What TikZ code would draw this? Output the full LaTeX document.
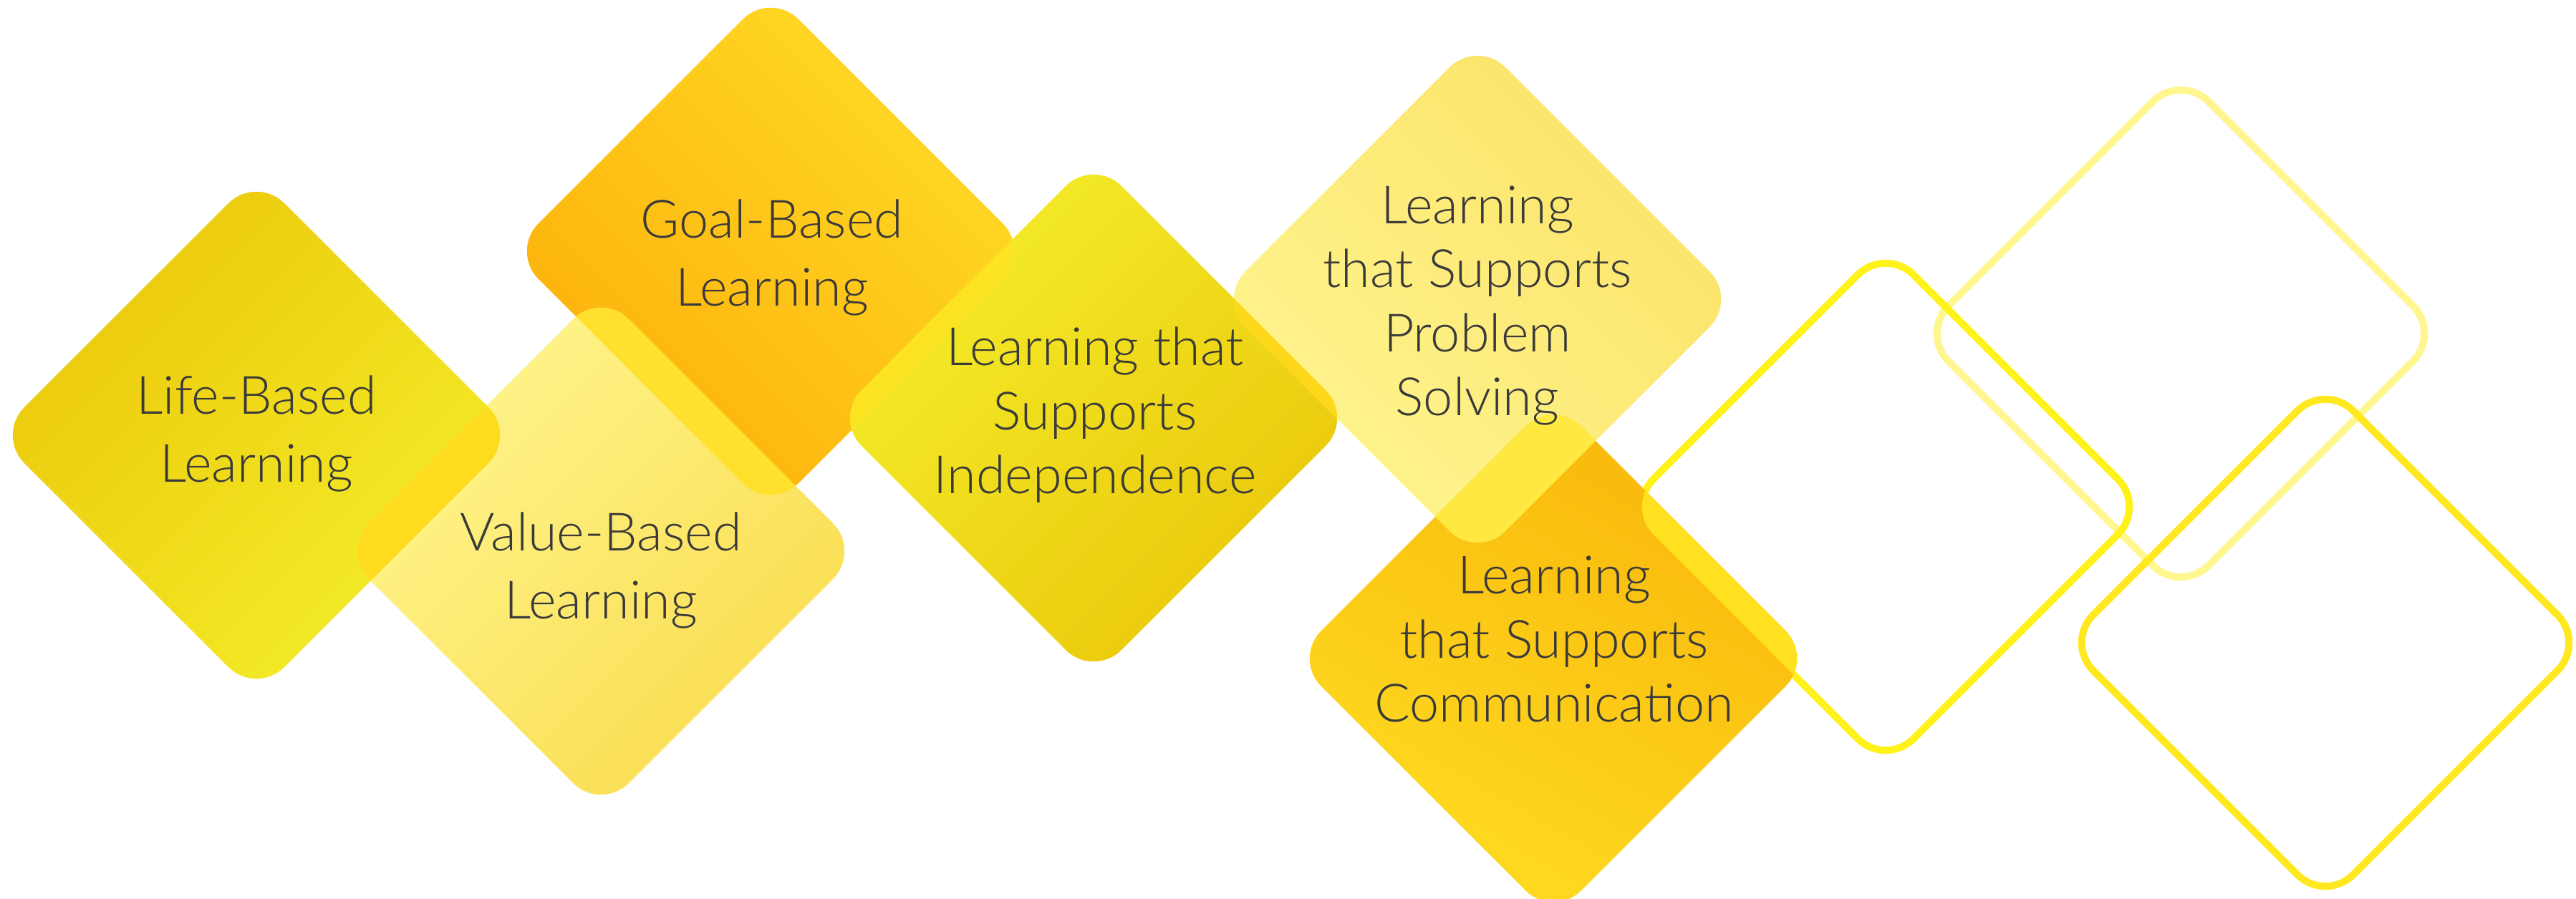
\documentclass[tikz,border=0pt]{standalone}
\usepackage{fontspec}
\setmainfont{Lato Light}
\definecolor{ink}{HTML}{3A3A3A}
\definecolor{lifedark}{HTML}{EBC70A}
\definecolor{lifebright}{HTML}{F4EE2A}
\definecolor{goalorange}{HTML}{FDAF0A}
\definecolor{goalyellow}{HTML}{FFDB26}
\definecolor{valuelight}{HTML}{FFF690}
\definecolor{valuegold}{HTML}{FADC4E}
\definecolor{indepbright}{HTML}{F4EE2A}
\definecolor{indepdark}{HTML}{EAC60A}
\definecolor{problight}{HTML}{FFF692}
\definecolor{probgold}{HTML}{FBE266}
\definecolor{commorange}{HTML}{F8B60A}
\definecolor{commyellow}{HTML}{FFDC22}
\definecolor{mixlifevalue}{HTML}{FDDC1E}
\definecolor{mixgoalvalue}{HTML}{FFE02C}
\definecolor{mixgoalindep}{HTML}{FCE423}
\definecolor{mixindepprob}{HTML}{FDD81A}
\definecolor{mixprobcomm}{HTML}{FFE840}
\definecolor{mixcommring}{HTML}{FFE120}
\definecolor{ringbright}{HTML}{FFF21A}
\definecolor{ringlight}{HTML}{FFF68F}
\definecolor{ringgold}{HTML}{FFE820}
\tikzset{
  tile/.style={rounded corners=0.55cm},
  ring/.style={rounded corners=0.55cm, line width=0.1cm},
  lbl/.style={text=ink, align=center, font=\fontsize{21}{25.5}\selectfont},
  lbltwo/.style={lbl, font=\fontsize{21}{27}\selectfont}
}
\newcommand{\tilepath}[2]{(#1-1.815,#2+1.815) -- (#1,#2+3.63) -- (#1+3.63,#2) -- (#1,#2-3.63) -- (#1-3.63,#2) -- cycle}
\begin{document}
\begin{tikzpicture}
  \useasboundingbox (0,0) rectangle (35.97,12.55);
  \fill[white] (0,0) rectangle (35.97,12.55);

  \draw[ring, draw=ringlight] \tilepath{30.45}{7.89};
  \draw[ring, draw=ringgold] \tilepath{32.47}{3.57};
  \draw[ring, draw=ringbright] \tilepath{26.33}{5.47};

  \shade[tile, top color=lifedark, bottom color=lifebright, shading angle=45] \tilepath{3.58}{6.47};
  \shade[tile, top color=goalyellow, bottom color=goalorange, shading angle=-45] \tilepath{10.76}{9.04};
  \shade[tile, top color=valuelight, bottom color=valuegold, shading angle=45] \tilepath{8.39}{4.85};
  \shade[tile, top color=indepbright, bottom color=indepdark, shading angle=45] \tilepath{15.27}{6.71};
  \shade[tile, top color=probgold, bottom color=problight, shading angle=-45] \tilepath{20.63}{8.37};
  \shade[tile, left color=commorange, right color=commyellow, shading angle=-30] \tilepath{21.69}{3.35};

  \begin{scope}
    \clip[tile] \tilepath{3.58}{6.47};
    \fill[tile, mixlifevalue] \tilepath{8.39}{4.85};
  \end{scope}
  \begin{scope}
    \clip[tile] \tilepath{10.76}{9.04};
    \fill[tile, mixgoalvalue] \tilepath{8.39}{4.85};
  \end{scope}
  \begin{scope}
    \clip[tile] \tilepath{10.76}{9.04};
    \fill[tile, mixgoalindep] \tilepath{15.27}{6.71};
  \end{scope}
  \begin{scope}
    \clip[tile] \tilepath{15.27}{6.71};
    \fill[tile, mixindepprob] \tilepath{20.63}{8.37};
  \end{scope}
  \begin{scope}
    \clip[tile] \tilepath{20.63}{8.37};
    \fill[tile, mixprobcomm] \tilepath{21.69}{3.35};
  \end{scope}
  \begin{scope}
    \clip[tile] \tilepath{21.69}{3.35};
    \fill[tile, mixcommring] \tilepath{26.33}{5.47};
  \end{scope}

  \node[lbltwo] (life) at (3.58,6.49) {Life-Based\\Learning};
  \node[lbltwo] (goal) at (10.78,8.95) {Goal-Based\\Learning};
  \node[lbltwo] (value) at (8.39,4.58) {Value-Based\\Learning};
  \node[lbl] (indep) at (15.29,6.75) {Learning that\\Supports\\Independence};
  \node[lbl] (prob) at (20.63,8.28) {Learning\\that Supports\\Problem\\Solving};
  \node[lbl] (comm) at (21.70,3.62) {Learning\\that Supports\\Communication};
\end{tikzpicture}
\end{document}
